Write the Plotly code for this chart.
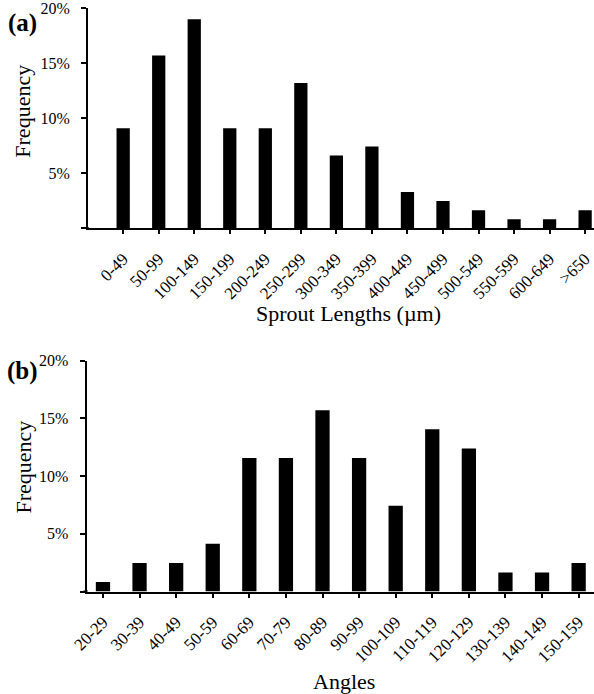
import plotly.graph_objects as go

# Panel (a): sprout length distribution
length_bins = ["0-49", "50-99", "100-149", "150-199", "200-249", "250-299", "300-349",
               "350-399", "400-449", "450-499", "500-549", "550-599", "600-649", ">650"]
length_freq = [9.09, 15.70, 19.01, 9.09, 9.09, 13.22, 6.61, 7.44, 3.31, 2.48, 1.65, 0.83, 0.83, 1.65]

# Panel (b): sprout angle distribution
angle_bins = ["20-29", "30-39", "40-49", "50-59", "60-69", "70-79", "80-89", "90-99",
              "100-109", "110-119", "120-129", "130-139", "140-149", "150-159"]
angle_freq = [0.83, 2.48, 2.48, 4.13, 11.57, 11.57, 15.70, 11.57, 7.44, 14.05, 12.40, 1.65, 1.65, 2.48]

y_ticks = [0, 5, 10, 15, 20]
y_tick_text = ["", "5%", "10%", "15%", "20%"]

W, H = 594, 694
SERIF = "Times New Roman, Liberation Serif, Times, serif"

fig = go.Figure()
fig.add_trace(go.Bar(x=length_bins, y=length_freq, width=0.373,
                     marker=dict(color="black", line=dict(width=0)),
                     xaxis="x", yaxis="y"))
fig.add_trace(go.Bar(x=angle_bins, y=angle_freq, width=0.39,
                     marker=dict(color="black", line=dict(width=0)),
                     xaxis="x2", yaxis="y2"))


def px_x(v):
    return v / W


def px_y(v):
    return 1 - v / H


xcommon = dict(type="category", showline=True, linecolor="black", linewidth=2,
               ticks="outside", ticklen=4, tickwidth=2, tickcolor="black",
               tickangle=-45, showgrid=False, zeroline=False, fixedrange=True,
               ticklabelstandoff=8, automargin=False, ticklabeloverflow="allow",
               tickfont=dict(family=SERIF, size=17, color="black"))
ycommon = dict(range=[0, 20], showline=True, linecolor="black", linewidth=2,
               ticks="outside", ticklen=5, tickwidth=2, tickcolor="black",
               tickvals=y_ticks, ticktext=y_tick_text, showgrid=False,
               zeroline=False, fixedrange=True, ticklabelstandoff=8, automargin=False,
               ticklabeloverflow="allow",
               tickfont=dict(family=SERIF, size=16, color="black"))

fig.update_layout(
    width=W, height=H,
    margin=dict(l=0, r=0, t=0, b=0, pad=0, autoexpand=False),
    paper_bgcolor="white", plot_bgcolor="white",
    showlegend=False,
    xaxis=dict(xcommon, domain=[px_x(88), 1], range=[-0.99, 13.25], anchor="y"),
    yaxis=dict(ycommon, domain=[px_y(228.3), px_y(8.3)], anchor="x"),
    xaxis2=dict(xcommon, domain=[px_x(86.5), 1], range=[-0.45, 13.42], anchor="y2"),
    yaxis2=dict(ycommon, domain=[px_y(591.5), px_y(360.7)], anchor="x2"),
)

# small extension of the y axis line below the x axis, and of the x axis to the left
for xr, yr in (("x domain", "y"), ("x2 domain", "y2")):
    fig.add_shape(type="line", xref=xr, yref=yr, x0=0, x1=0,
                  ysizemode="pixel", yanchor=0, y0=1, y1=-4,
                  line=dict(color="black", width=2))
fig.add_shape(type="line", xref="x2 domain", yref="y2", y0=0, y1=0,
              xsizemode="pixel", xanchor=0, x0=-3, x1=1,
              line=dict(color="black", width=2))

annots = [
    dict(text="(a)", x=px_x(22), y=px_y(23), font=dict(size=25, family=SERIF), bold=True),
    dict(text="(b)", x=px_x(22), y=px_y(371), font=dict(size=25, family=SERIF), bold=True),
    dict(text="Frequency", x=px_x(23), y=px_y(111.7), textangle=-90, font=dict(size=22, family=SERIF)),
    dict(text="Frequency", x=px_x(23), y=px_y(467.5), textangle=-90, font=dict(size=22, family=SERIF)),
    dict(text="Sprout Lengths (\u00b5m)", x=px_x(348), y=px_y(314), font=dict(size=22, family=SERIF)),
    dict(text="Angles", x=px_x(344), y=px_y(681), font=dict(size=22, family=SERIF)),
]
for a in annots:
    bold = a.pop("bold", False)
    if bold:
        a["text"] = "<b>" + a["text"] + "</b>"
    a["font"]["color"] = "black"
    fig.add_annotation(xref="paper", yref="paper", xanchor="center", yanchor="middle",
                       showarrow=False, **a)

fig.write_html("out.html")
